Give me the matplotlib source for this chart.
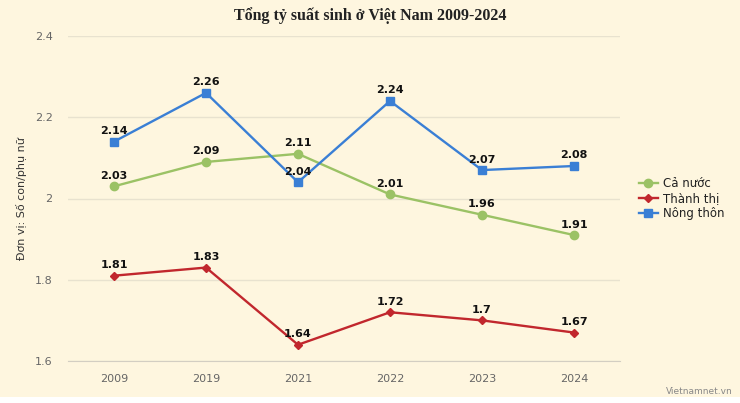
import matplotlib
matplotlib.use("Agg")
import matplotlib.pyplot as plt
from matplotlib.patches import Rectangle

years = ["2009", "2019", "2021", "2022", "2023", "2024"]
ca_nuoc = [2.03, 2.09, 2.11, 2.01, 1.96, 1.91]
thanh_thi = [1.81, 1.83, 1.64, 1.72, 1.70, 1.67]
nong_thon = [2.14, 2.26, 2.04, 2.24, 2.07, 2.08]
labels_ca = ["2.03", "2.09", "2.11", "2.01", "1.96", "1.91"]
labels_tt = ["1.81", "1.83", "1.64", "1.72", "1.7", "1.67"]
labels_nt = ["2.14", "2.26", "2.04", "2.24", "2.07", "2.08"]
yticks = [1.6, 1.8, 2.0, 2.2, 2.4]
ytick_labels = ["1.6", "1.8", "2", "2.2", "2.4"]

bg = "#FEF6DF"
plt.rcParams['font.family'] = ['DejaVu Sans']

fig = plt.figure(figsize=(7.4, 4.03), dpi=100, facecolor=bg)
fig.patches.append(Rectangle((0, 0), 1, 6/403, transform=fig.transFigure,
                             facecolor="white", edgecolor="none", zorder=0))
ax = fig.add_axes([68/740, 1-361/403, (620-68)/740, (361-36)/403])
ax.set_facecolor(bg)
x = list(range(len(years)))

series = [
    ("Cả nước", ca_nuoc, labels_ca, "#9BC265", "o", 6),
    ("Thành thị", thanh_thi, labels_tt, "#C1272D", "D", 4.5),
    ("Nông thôn", nong_thon, labels_nt, "#3A7FD5", "s", 6),
]
for name, vals, labs, col, mk, ms in series:
    ax.plot(x, vals, color=col, lw=1.7, marker=mk, ms=ms, label=name, zorder=3)
    for xi, v, lab in zip(x, vals, labs):
        ax.annotate(lab, (xi, v), xytext=(0, 4), textcoords="offset points",
                    ha="center", va="bottom", fontsize=8, fontweight="bold",
                    color="#111111", zorder=4)

ax.set_xlim(-0.5, 5.5)
ax.set_ylim(1.6, 2.4)
ax.set_yticks(yticks)
ax.set_yticklabels(ytick_labels)
ax.set_xticks(x)
ax.set_xticklabels(years)
ax.grid(axis="y", color="#E8E2CF", lw=1)
ax.set_axisbelow(True)
for s in ["top", "right", "left"]:
    ax.spines[s].set_visible(False)
ax.spines["bottom"].set_color("#D3CEC2")
ax.tick_params(axis="both", length=0, colors="#666666", labelsize=8)
ax.tick_params(axis="y", pad=11)
ax.tick_params(axis="x", pad=9)

fig.text(22/740, 1-199/403, "Đơn vị: Số con/phụ nữ", rotation=90, ha="center", va="center",
         fontsize=8, color="#333333")

fig.text(0.5, 1-16/403, "Tổng tỷ suất sinh ở Việt Nam 2009-2024", ha="center", va="center",
         fontsize=11.5, fontweight="bold", family="Liberation Serif", color="#222222")

leg = ax.legend(loc="center left", bbox_to_anchor=(1.015, 0.5), frameon=False,
                fontsize=8.5, handlelength=1.6, handletextpad=0.4, labelspacing=0.2,
                labelcolor="#222222")

fig.text(733/740, 1-392/403, "Vietnamnet.vn", ha="right", va="center", fontsize=6.5,
         color="#888888")

fig.savefig("out.png", dpi=100, facecolor=bg)
